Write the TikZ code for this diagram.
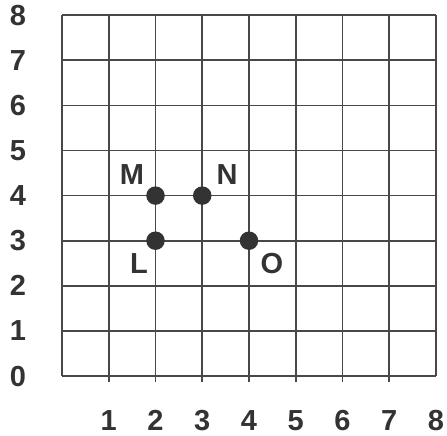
\documentclass[tikz,border=0pt]{standalone}
\usepackage{fontspec}
\setmainfont{Liberation Sans}
\definecolor{gridc}{HTML}{484848}
\definecolor{dotc}{HTML}{333333}
\definecolor{txtc}{HTML}{333333}
\begin{document}
\begin{tikzpicture}[x=1pt,y=-1pt,
  gridline/.style={draw=gridc,line width=1.6pt},
  numlab/.style={font=\fontsize{29}{29}\selectfont\bfseries,text=txtc,inner sep=0pt,anchor=base},
  ptlab/.style={font=\fontsize{29}{29}\selectfont\bfseries,text=txtc,inner sep=0pt},
  ptdot/.style={circle,fill=dotc,minimum size=18.5pt,inner sep=0pt}]
\useasboundingbox (0,0) rectangle (447,436);
% grid
\foreach \i in {0,...,8}{
  \draw[gridline] ({62+46.75*\i},15) -- ({62+46.75*\i},376);
  \draw[gridline] (62,{376-45.1*\i}) -- (436,{376-45.1*\i});
}
\foreach \i in {1,...,7}{
  \draw[gridline] ({62+46.75*\i},376) -- ({62+46.75*\i},382);
}
% axis labels
\foreach \i in {0,...,8}{
  \node[numlab] (y\i) at (18,{376-45.1*\i+10}) {\i};
}
\foreach \i in {1,...,8}{
  \node[numlab] (x\i) at ({62+46.75*\i},430) {\i};
}
% points
\node[ptdot] (M) at ({62+46.75*2},{376-45.1*4}) {};
\node[ptdot] (N) at ({62+46.75*3},{376-45.1*4}) {};
\node[ptdot] (L) at ({62+46.75*2},{376-45.1*3}) {};
\node[ptdot] (O) at ({62+46.75*4},{376-45.1*3}) {};
\node[ptlab] (Mlab) at (132,175) {M};
\node[ptlab] (Nlab) at (227,175) {N};
\node[ptlab] (Llab) at (139,264) {L};
\node[ptlab] (Olab) at (272,264) {O};
\end{tikzpicture}
\end{document}
